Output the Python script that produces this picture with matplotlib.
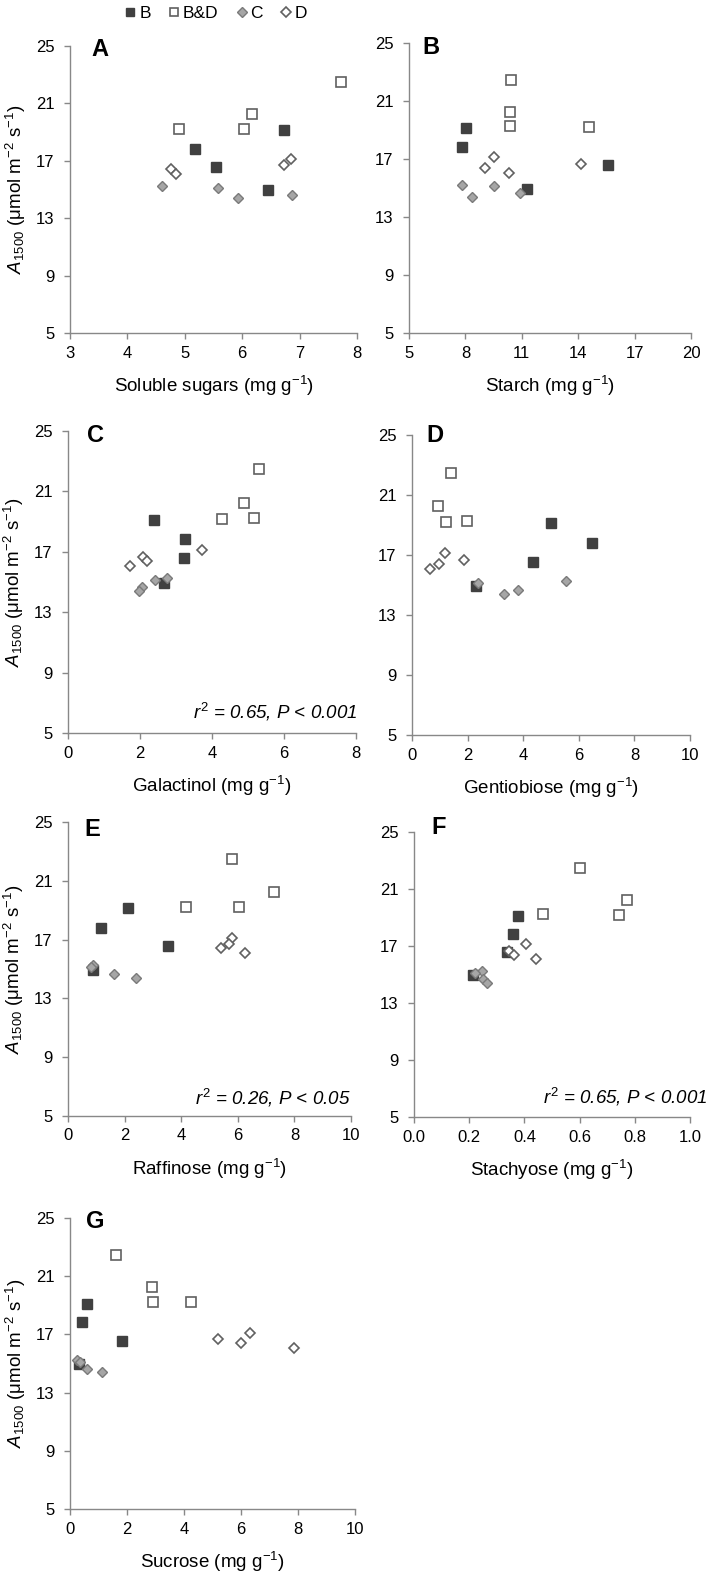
import matplotlib
matplotlib.use("Agg")
import matplotlib.pyplot as plt

plt.rcParams['font.family'] = ['Liberation Sans', 'DejaVu Sans']
plt.rcParams['mathtext.fontset'] = 'custom'
plt.rcParams['mathtext.rm'] = 'Liberation Sans'
plt.rcParams['mathtext.it'] = 'Liberation Sans:italic'
plt.rcParams['mathtext.bf'] = 'Liberation Sans:bold'

# A1500 values shared by every panel (one per plant, per group)
y_B = [19.12, 17.82, 16.56, 14.94]
y_BD = [22.48, 20.24, 19.25, 19.20]
y_C = [15.24, 15.12, 14.65, 14.40]
y_D = [17.13, 16.68, 16.40, 16.06]

# x values per panel, same plant order as above
sugars_B = [6.72, 5.18, 5.54, 6.45]
sugars_BD = [7.72, 6.17, 4.90, 6.04]
sugars_C = [4.61, 5.58, 6.87, 5.92]
sugars_D = [6.85, 6.73, 4.76, 4.84]

starch_B = [8.05, 7.80, 15.6, 11.26]
starch_BD = [10.43, 10.37, 10.37, 14.59]
starch_C = [7.84, 9.54, 10.9, 8.37]
starch_D = [9.52, 14.15, 9.04, 10.32]

galactinol_B = [2.40, 3.25, 3.23, 2.68]
galactinol_BD = [5.31, 4.88, 5.16, 4.28]
galactinol_C = [2.76, 2.42, 2.05, 1.97]
galactinol_D = [3.73, 2.07, 2.19, 1.72]

gentiobiose_B = [4.99, 6.46, 4.36, 2.30]
gentiobiose_BD = [1.41, 0.95, 1.97, 1.21]
gentiobiose_C = [5.54, 2.39, 3.82, 3.31]
gentiobiose_D = [1.20, 1.88, 0.98, 0.65]

raffinose_B = [2.11, 1.16, 3.54, 0.89]
raffinose_BD = [5.78, 7.29, 4.16, 6.04]
raffinose_C = [0.87, 0.82, 1.63, 2.40]
raffinose_D = [5.81, 5.70, 5.39, 6.25]

stachyose_B = [0.376, 0.359, 0.336, 0.215]
stachyose_BD = [0.601, 0.770, 0.468, 0.743]
stachyose_C = [0.245, 0.221, 0.249, 0.263]
stachyose_D = [0.406, 0.345, 0.361, 0.442]

sucrose_B = [0.59, 0.42, 1.81, 0.32]
sucrose_BD = [1.60, 2.89, 2.91, 4.25]
sucrose_C = [0.26, 0.35, 0.59, 1.11]
sucrose_D = [6.32, 5.18, 5.99, 7.86]

group_labels = ['B', 'B&D', 'C', 'D']
y_ticks = [5, 9, 13, 17, 21, 25]

W, H = 710, 1572
fig = plt.figure(figsize=(W / 100, H / 100), dpi=100)

styles = [
    dict(marker='s', ms=7.5, mfc='#404040', mec='#404040', mew=1.0),
    dict(marker='s', ms=7.5, mfc='white', mec='#606060', mew=1.2),
    dict(marker='D', ms=5.6, mfc='#a6a6a6', mec='#7a7a7a', mew=1.0),
    dict(marker='D', ms=5.6, mfc='white', mec='#606060', mew=1.2),
]


def make_axes(box):
    l, t, r, b = box
    return fig.add_axes([l / W, 1 - b / H, (r - l) / W, (b - t) / H])


def panel(box, letter, letter_pos, xs, xlim, xticks, xlabel, ylabel=True,
          note=None, note_xy=None, xfmt='{:g}'):
    ax = make_axes(box)
    for x, y, st in zip(xs, [y_B, y_BD, y_C, y_D], styles):
        ax.plot(x, y, ls='none', clip_on=False, **st)
    ax.set_xlim(xlim)
    ax.set_ylim(5, 25)
    ax.set_xticks(xticks)
    ax.set_xticklabels([xfmt.format(v) for v in xticks])
    ax.set_yticks(y_ticks)
    for s in ['top', 'right']:
        ax.spines[s].set_visible(False)
    for s in ['left', 'bottom']:
        ax.spines[s].set_color('#888888')
        ax.spines[s].set_linewidth(1.0)
    ax.tick_params(direction='out', length=4, width=1, color='#888888',
                   labelsize=12, labelcolor='black')
    ax.tick_params(axis='x', pad=5)
    ax.tick_params(axis='y', pad=7)
    ax.set_xlabel(xlabel, fontsize=13.5, labelpad=10)
    if ylabel:
        ax.set_ylabel(r'$A_{1500}$ (μmol m$^{-2}$ s$^{-1}$)', fontsize=13.5,
                      labelpad=6)
    # letter position: axes-fraction x, pixel offset of centre below the top
    h = box[3] - box[1]
    ax.text(letter_pos[0], 1 - letter_pos[1] / h, letter,
            transform=ax.transAxes, fontsize=17, fontweight='bold',
            va='center', ha='center')
    if note:
        ax.text(note_xy[0], note_xy[1], note, transform=ax.transAxes,
                fontsize=13.5, style='italic', ha='right', va='center')
    return ax


panel((70, 46, 357, 333), 'A', (0.105, 4),
      [sugars_B, sugars_BD, sugars_C, sugars_D], (3, 8), range(3, 9),
      'Soluble sugars (mg g$^{-1}$)')
panel((409, 43, 691, 333), 'B', (0.078, 5),
      [starch_B, starch_BD, starch_C, starch_D], (5, 20), range(5, 21, 3),
      'Starch (mg g$^{-1}$)', ylabel=False)
panel((68, 431, 356, 733), 'C', (0.094, 4),
      [galactinol_B, galactinol_BD, galactinol_C, galactinol_D], (0, 8),
      range(0, 9, 2), 'Galactinol (mg g$^{-1}$)',
      note=r'$r^2$ = 0.65, $P$ < 0.001', note_xy=(1.005, 0.07))
panel((412, 435, 690, 735), 'D', (0.083, 0),
      [gentiobiose_B, gentiobiose_BD, gentiobiose_C, gentiobiose_D], (0, 10),
      range(0, 11, 2), 'Gentiobiose (mg g$^{-1}$)', ylabel=False)
panel((68, 822, 351, 1116), 'E', (0.087, 8),
      [raffinose_B, raffinose_BD, raffinose_C, raffinose_D], (0, 10),
      range(0, 11, 2), 'Raffinose (mg g$^{-1}$)',
      note=r'$r^2$ = 0.26, $P$ < 0.05', note_xy=(1.0, 0.063))
panel((414, 832, 690, 1117), 'F', (0.09, -4),
      [stachyose_B, stachyose_BD, stachyose_C, stachyose_D], (0, 1.0),
      [0, 0.2, 0.4, 0.6, 0.8, 1.0], 'Stachyose (mg g$^{-1}$)', ylabel=False,
      note=r'$r^2$ = 0.65, $P$ < 0.001', note_xy=(1.062, 0.07),
      xfmt='{:.1f}')
panel((70, 1218, 355, 1509), 'G', (0.09, 4),
      [sucrose_B, sucrose_BD, sucrose_C, sucrose_D], (0, 10),
      range(0, 11, 2), 'Sucrose (mg g$^{-1}$)')

handles = [plt.Line2D([], [], ls='none', **dict(st, ms=st['ms'] * 0.85))
           for st in styles]
fig.legend(handles, group_labels, loc='upper center',
           bbox_to_anchor=(216 / W, 1.004), ncol=4, frameon=False,
           fontsize=12.5, handlelength=0.7, handletextpad=0.15,
           columnspacing=1.0, borderpad=0.2)

fig.savefig('out.png', dpi=100)
